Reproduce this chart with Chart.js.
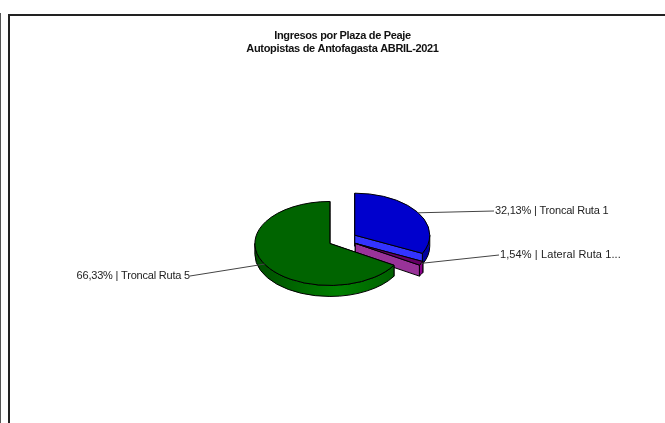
<!DOCTYPE html>
<html><head><meta charset="utf-8">
<script src="https://cdn.jsdelivr.net/npm/chart.js@4"></script>
<style>
html,body{margin:0;padding:0;background:#fff;overflow:hidden}
#wrap{position:relative;width:665px;height:423px}
canvas{position:absolute;left:0;top:0}
.l{position:absolute;background:#222}
</style></head><body>
<div id="wrap">
<canvas id="c" width="665" height="423"></canvas>
<div class="l" style="left:0;top:13px;width:1px;height:410px;background:#555"></div>
<div class="l" style="left:8px;top:14px;width:657px;height:2px"></div>
<div class="l" style="left:8px;top:14px;width:2px;height:409px"></div>
</div>
<script>
const categories = ['Troncal Ruta 1','Lateral Ruta 1...','Troncal Ruta 5'];
const shares = [32.13,1.54,66.33];
const shareLabels = ['32,13%','1,54%','66,33%'];
const titleLines = ['Ingresos por Plaza de Peaje','Autopistas de Antofagasta ABRIL-2021'];
const topColors = ['#0000cd','#660066','#006400'];
const faceColors = ['#3333ff','#993399','#004d00'];
const wallColors = ['#0000a0','#8b008b','#006400'];
const labelTargets = [[494,211,'left',-0.2],[499,255,'left',0.1],[190,276,'right',-0.2]];
const squash = 0.56, depth = 11;
const fontStack = '"Liberation Sans", Arial, sans-serif';

const pie3d = {
  id:'pie3d',
  beforeDraw(chart){ chart.ctx.letterSpacing='-0.33px'; },
  beforeDatasetsDraw(chart){
    const ctx = chart.ctx, arcs = chart.getDatasetMeta(0).data;
    const geo = arcs.map(a=>{
      const p = a.getProps(['x','y','startAngle','endAngle','outerRadius'],true);
      const d = (a.options.offset||0)/4, m=(p.startAngle+p.endAngle)/2;
      return {cx:p.x+Math.cos(m)*d, cy:p.y+Math.sin(m)*d*squash, s:p.startAngle, e:p.endAngle, r:p.outerRadius, m};
    });
    ctx.save();
    ctx.lineWidth=1; ctx.strokeStyle='#000'; ctx.lineJoin='round';
    const rim=(g,t)=>[g.cx+Math.cos(t)*g.r, g.cy+Math.sin(t)*g.r*squash];
    geo.forEach((g,i)=>{
      const face=(t,col)=>{
        const q=rim(g,t);
        ctx.beginPath();ctx.moveTo(g.cx,g.cy);ctx.lineTo(q[0],q[1]);ctx.lineTo(q[0],q[1]+depth);ctx.lineTo(g.cx,g.cy+depth);ctx.closePath();
        ctx.fillStyle=col;ctx.fill();ctx.stroke();
      };
      face(g.s,faceColors[i]);
      const a=Math.max(g.s,0), b=Math.min(g.e,Math.PI);
      if(b>a){
        let fill=wallColors[i];
        if(i===2){
          const gr=ctx.createLinearGradient(g.cx-g.r,0,g.cx+g.r,0);
          gr.addColorStop(0,'#004d00');gr.addColorStop(0.55,'#008000');gr.addColorStop(1,'#005a00');
          fill=gr;
        }
        ctx.beginPath();
        ctx.ellipse(g.cx,g.cy,g.r,g.r*squash,0,a,b,false);
        ctx.ellipse(g.cx,g.cy+depth,g.r,g.r*squash,0,b,a,true);
        ctx.closePath();ctx.fillStyle=fill;ctx.fill();ctx.stroke();
      }
      face(g.e,faceColors[i]);
      ctx.beginPath();ctx.moveTo(g.cx,g.cy);
      ctx.ellipse(g.cx,g.cy,g.r,g.r*squash,0,g.s,g.e,false);
      ctx.closePath();ctx.fillStyle=topColors[i];ctx.fill();ctx.stroke();
    });
    ctx.font='11px '+fontStack;
    ctx.textBaseline='middle';
    geo.forEach((g,i)=>{
      const q=rim(g,g.m), t=labelTargets[i];
      ctx.strokeStyle='#444';ctx.lineWidth=1;
      ctx.beginPath();ctx.moveTo(q[0],q[1]);ctx.lineTo(t[0],t[1]);ctx.stroke();
      ctx.textAlign=t[2];ctx.fillStyle='#222';
      ctx.letterSpacing=t[3]+'px';
      ctx.fillText(shareLabels[i]+' | '+categories[i], t[0]+(t[2]==='left'?1:0), t[1]);
    });
    ctx.restore();
    return false;
  }
};

new Chart(document.getElementById('c'),{
  type:'pie',
  data:{labels:categories,datasets:[{data:shares,backgroundColor:topColors,borderColor:'#000',borderWidth:1,offset:58}]},
  plugins:[pie3d],
  options:{
    responsive:false,animation:false,radius:75,
    layout:{padding:{left:20,right:0,top:0,bottom:10}},
    plugins:{
      legend:{display:false},tooltip:{enabled:false},
      title:{display:true,text:titleLines,color:'#111',font:{family:fontStack,size:11,weight:'bold',lineHeight:1.18},padding:{top:29,bottom:11}}
    }
  }
});
</script>
</body></html>
